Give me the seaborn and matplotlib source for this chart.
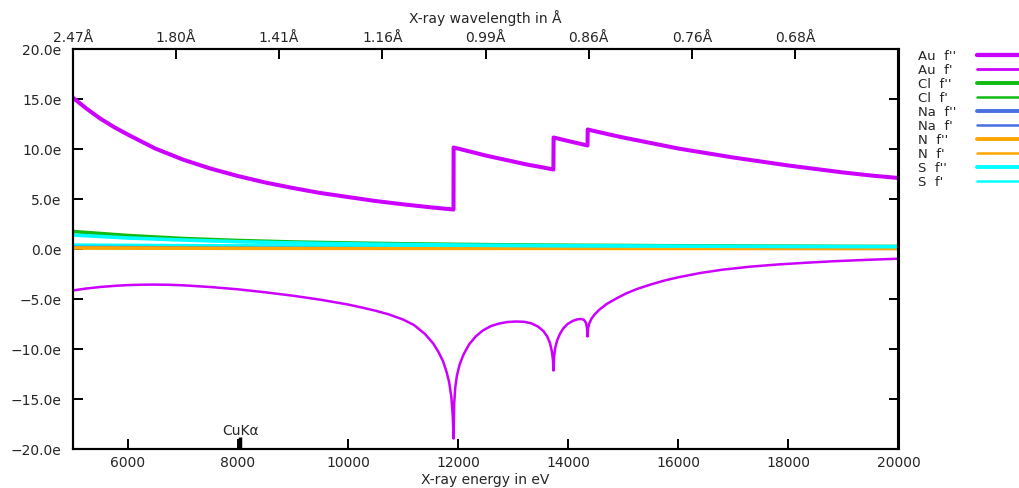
import matplotlib
matplotlib.use("Agg")
import matplotlib.pyplot as plt
from matplotlib.lines import Line2D
import numpy as np
import pandas as pd
import seaborn as sns

# ---------------- data ----------------
au_fpp_energy = [5000, 5250, 5500, 5750, 6000, 6500, 7000, 7500, 8000, 8500, 9000, 9500, 10000, 10500, 11000, 11500, 11918,
                 11920, 12250, 12500, 12750, 13000, 13250, 13500, 13732,
                 13736, 14000, 14352,
                 14355, 14750, 15000, 15500, 16000, 16500, 17000, 17500, 18000, 18500, 19000, 19500, 20000]
au_fpp = [15.1, 14.0, 13.0, 12.15, 11.4, 10.0, 8.9, 8.0, 7.25, 6.6, 6.05, 5.55, 5.15, 4.75, 4.42, 4.12, 3.9,
          10.1, 9.65, 9.3, 9.0, 8.7, 8.4, 8.15, 7.9,
          11.1, 10.75, 10.3,
          11.9, 11.4, 11.1, 10.55, 10.0, 9.55, 9.1, 8.7, 8.3, 7.95, 7.6, 7.3, 7.05]

au_fp_energy = [5000, 5250, 5500, 5750, 6000, 6250, 6500, 6750, 7000, 7500, 8000, 8500, 9000, 9500, 10000,
                10250, 10500, 10750, 11000, 11200, 11400, 11550, 11650, 11730, 11790, 11840, 11880, 11905,
                11919, 11930, 11950, 11980, 12030, 12100, 12200, 12320, 12450, 12600, 12750, 12900, 13050,
                13200, 13330, 13450, 13550, 13620, 13670, 13705, 13725, 13734, 13745, 13765, 13800, 13850,
                13910, 13990, 14080, 14170, 14240, 14290, 14325, 14343, 14353, 14362, 14380, 14420, 14480,
                14570, 14700, 14875, 15050, 15250, 15500, 15750, 16000, 16400, 16800, 17300, 17800, 18300,
                18800, 19400, 20000]
au_fp = [-4.2, -4.0, -3.85, -3.74, -3.66, -3.62, -3.61, -3.63, -3.68, -3.85, -4.08, -4.38, -4.72, -5.12, -5.6,
         -5.9, -6.22, -6.6, -7.1, -7.65, -8.55, -9.5, -10.4, -11.3, -12.3, -13.4, -14.9, -16.8,
         -19.0, -15.5, -13.9, -12.7, -11.6, -10.6, -9.6, -8.8, -8.2, -7.75, -7.5, -7.35, -7.3,
         -7.33, -7.48, -7.8, -8.25, -8.8, -9.45, -10.3, -11.2, -12.2, -10.8, -9.95, -9.2, -8.55,
         -8.0, -7.55, -7.25, -7.08, -7.05, -7.15, -7.45, -7.95, -8.8, -8.0, -7.55, -7.05, -6.6,
         -6.1, -5.55, -5.0, -4.5, -4.05, -3.6, -3.2, -2.88, -2.45, -2.12, -1.82, -1.6, -1.43,
         -1.28, -1.14, -1.02]

light_energy = [5000, 6000, 7000, 8000, 9000, 10000, 11000, 12000, 13000, 14000, 15000, 16000, 17000, 18000, 19000, 20000]
cl_fpp = [1.7, 1.3, 1.0, 0.8, 0.65, 0.55, 0.47, 0.41, 0.36, 0.32, 0.30, 0.27, 0.25, 0.23, 0.21, 0.20]
cl_fp = [0.35, 0.33, 0.30, 0.28, 0.26, 0.24, 0.22, 0.20, 0.19, 0.18, 0.17, 0.16, 0.15, 0.14, 0.13, 0.12]
na_fpp = [0.28, 0.21, 0.16, 0.13, 0.10, 0.08, 0.07, 0.06, 0.05, 0.045, 0.04, 0.035, 0.03, 0.028, 0.025, 0.022]
na_fp = [0.18, 0.16, 0.14, 0.13, 0.12, 0.11, 0.10, 0.09, 0.085, 0.08, 0.075, 0.07, 0.065, 0.06, 0.055, 0.05]
n_fpp = [0.05, 0.04, 0.03, 0.02, 0.016, 0.013, 0.01, 0.009, 0.008, 0.007, 0.006, 0.005, 0.005, 0.004, 0.004, 0.003]
n_fp = [0.06, 0.05, 0.04, 0.03, 0.025, 0.02, 0.018, 0.016, 0.014, 0.012, 0.011, 0.01, 0.009, 0.008, 0.008, 0.007]
s_fpp = [1.35, 1.05, 0.85, 0.68, 0.56, 0.47, 0.40, 0.35, 0.31, 0.28, 0.26, 0.24, 0.22, 0.20, 0.19, 0.18]
s_fp = [0.40, 0.38, 0.35, 0.33, 0.31, 0.29, 0.27, 0.25, 0.24, 0.23, 0.22, 0.21, 0.20, 0.19, 0.18, 0.17]

bottom_ticks = [6000, 8000, 10000, 12000, 14000, 16000, 18000, 20000]
y_ticks = [-20, -15, -10, -5, 0, 5, 10, 15, 20]
y_tick_labels = ["\u221220.0e", "\u221215.0e", "\u221210.0e", "\u22125.0e", "0.0e", "5.0e", "10.0e", "15.0e", "20.0e"]
top_tick_energies = [5000, 6875, 8750, 10625, 12500, 14375, 16250, 18125]
top_tick_labels = ["2.47Å", "1.80Å", "1.41Å", "1.16Å", "0.99Å", "0.86Å", "0.76Å", "0.68Å"]
cu_ka_energy = 8048

series = [
    ("Au  f''", au_fpp_energy, au_fpp, "#cc00ff", 2.9),
    ("Au  f'", au_fp_energy, au_fp, "#cc00ff", 1.8),
    ("Cl  f''", light_energy, cl_fpp, "#11bb11", 2.6),
    ("Cl  f'", light_energy, cl_fp, "#11bb11", 1.6),
    ("Na  f''", light_energy, na_fpp, "#4a6fe3", 2.6),
    ("Na  f'", light_energy, na_fp, "#4a6fe3", 1.6),
    ("N  f''", light_energy, n_fpp, "#ffa500", 2.6),
    ("N  f'", light_energy, n_fp, "#ffa500", 1.6),
    ("S  f''", light_energy, s_fpp, "#00ffff", 2.6),
    ("S  f'", light_energy, s_fp, "#00ffff", 1.6),
]

# ---------------- style ----------------
sns.set_style("white", {"axes.edgecolor": "black"})
plt.rcParams['font.family'] = ['DejaVu Sans']
plt.rcParams['font.size'] = 10

W, H = 1019, 489
fig = plt.figure(figsize=(W / 100, H / 100), dpi=100)
x0, x1 = 72.6, 898.5
y0, y1 = 49.5, 449.5
ax = fig.add_axes([x0 / W, 1 - y1 / H, (x1 - x0) / W, (y1 - y0) / H])

for label, ex, vals, color, lw in series:
    df = pd.DataFrame({"energy": ex, "value": vals})
    sns.lineplot(data=df, x="energy", y="value", ax=ax, color=color, linewidth=lw,
                 estimator=None, sort=False, legend=False)

ax.set_xlim(5000, 20000)
ax.set_ylim(-20, 20)
ax.set_xticks(bottom_ticks)
ax.set_xticklabels([str(t) for t in bottom_ticks])
ax.set_yticks(y_ticks)
ax.set_yticklabels(y_tick_labels)
ax.tick_params(axis='both', direction='in', length=7, width=1.4, color='black', labelsize=10)
ax.tick_params(axis='x', pad=5)
ax.tick_params(axis='y', pad=8, right=True, left=True)
ax.set_xlabel("X-ray energy in eV", fontsize=10, labelpad=1.5)
ax.set_ylabel("")
for sp in ax.spines.values():
    sp.set_linewidth(1.5)
    sp.set_color('black')

ax2 = ax.twiny()
ax2.set_xlim(5000, 20000)
ax2.set_xticks(top_tick_energies)
ax2.set_xticklabels(top_tick_labels)
ax2.tick_params(axis='x', direction='in', length=7, width=1.4, color='black', labelsize=10, pad=3)
ax2.set_xlabel("X-ray wavelength in Å", fontsize=10, labelpad=6)
for sp in ax2.spines.values():
    sp.set_linewidth(1.5)
    sp.set_color('black')

# Cu K-alpha marker
ax.vlines(cu_ka_energy, 0, 0.028, transform=ax.get_xaxis_transform(), color='black', linewidth=2.5)
ax.text(cu_ka_energy, 0.046, "CuKα", transform=ax.get_xaxis_transform(), ha='center', va='center', fontsize=10)

# legend (text left aligned, sample lines in a column)
for i, (label, ex, vals, color, lw) in enumerate(series):
    yy = 1 - (56 + 14 * i) / H
    fig.text(918 / W, yy, label, ha='left', va='center', fontsize=9.5)
    fig.add_artist(Line2D([977 / W, 1.01], [yy, yy], color=color, linewidth=lw + 0.2,
                          transform=fig.transFigure))

fig.savefig("out.png", dpi=100)
